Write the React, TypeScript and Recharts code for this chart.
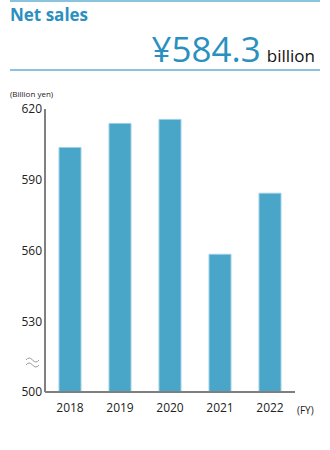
import React from 'react';
import { BarChart, Bar, XAxis, YAxis } from 'recharts';

const years = ['2018', '2019', '2020', '2021', '2022'];
const sales = [603.7, 613.9, 615.6, 558.4, 584.3];
const yTicks = [500, 530, 560, 590, 620];

const data = years.map((year, i) => ({ year, sales: sales[i] }));

const font = '"Open Sans", "Noto Sans", sans-serif';

export default function App() {
  return (
    <div style={{ position: 'absolute', left: 0, top: 0, width: 330, height: 450, fontFamily: font, background: '#fff' }}>
      <div style={{ position: 'absolute', left: 10, top: 0, width: 310, height: 1.5, background: '#8ac3dc' }} />
      <div style={{ position: 'absolute', left: 10, top: 3, fontSize: 17, fontWeight: 700, color: '#2a90c0' }}>Net sales</div>
      <div style={{ position: 'absolute', right: 15, top: 31, whiteSpace: 'nowrap', lineHeight: 1 }}>
        <span style={{ fontSize: 35, color: '#2a90c0' }}>¥584.3</span>
        <span style={{ fontSize: 17, color: '#111', marginLeft: 6 }}>billion</span>
      </div>
      <div style={{ position: 'absolute', left: 10, top: 69, width: 310, height: 1.5, background: '#8ac3dc' }} />
      <div style={{ position: 'absolute', left: 10, top: 88, fontSize: 8, color: '#222' }}>(Billion yen)</div>

      <div style={{ position: 'absolute', left: 0, top: 0 }}>
        <BarChart width={330} height={450} data={data} margin={{ top: 109, right: 35, bottom: 28, left: 0 }}>
          <YAxis
            domain={[500, 620]}
            ticks={yTicks}
            width={45}
            tickSize={0}
            tickMargin={3}
            axisLine={{ stroke: '#000', strokeWidth: 1 }}
            tick={{ fill: '#222', fontSize: 12, fontFamily: font }}
          />
          <XAxis
            dataKey="year"
            height={30}
            tickSize={0}
            tickMargin={11}
            axisLine={{ stroke: '#7f7f7f', strokeWidth: 2 }}
            tick={{ fill: '#222', fontSize: 12, fontFamily: font }}
          />
          <Bar dataKey="sales" fill="#4aa6c8" stroke="#9dd0e3" strokeWidth={1} barSize={22} isAnimationActive={false} />
        </BarChart>
      </div>

      <svg style={{ position: 'absolute', left: 25, top: 356 }} width={16} height={12}>
        <path d="M1 4 Q4 0 7.5 4 T14 4" fill="none" stroke="#999" strokeWidth={1} />
        <path d="M1 9 Q4 5 7.5 9 T14 9" fill="none" stroke="#999" strokeWidth={1} />
      </svg>
      <div style={{ position: 'absolute', left: 297, top: 403, fontSize: 10, color: '#222' }}>(FY)</div>
    </div>
  );
}
